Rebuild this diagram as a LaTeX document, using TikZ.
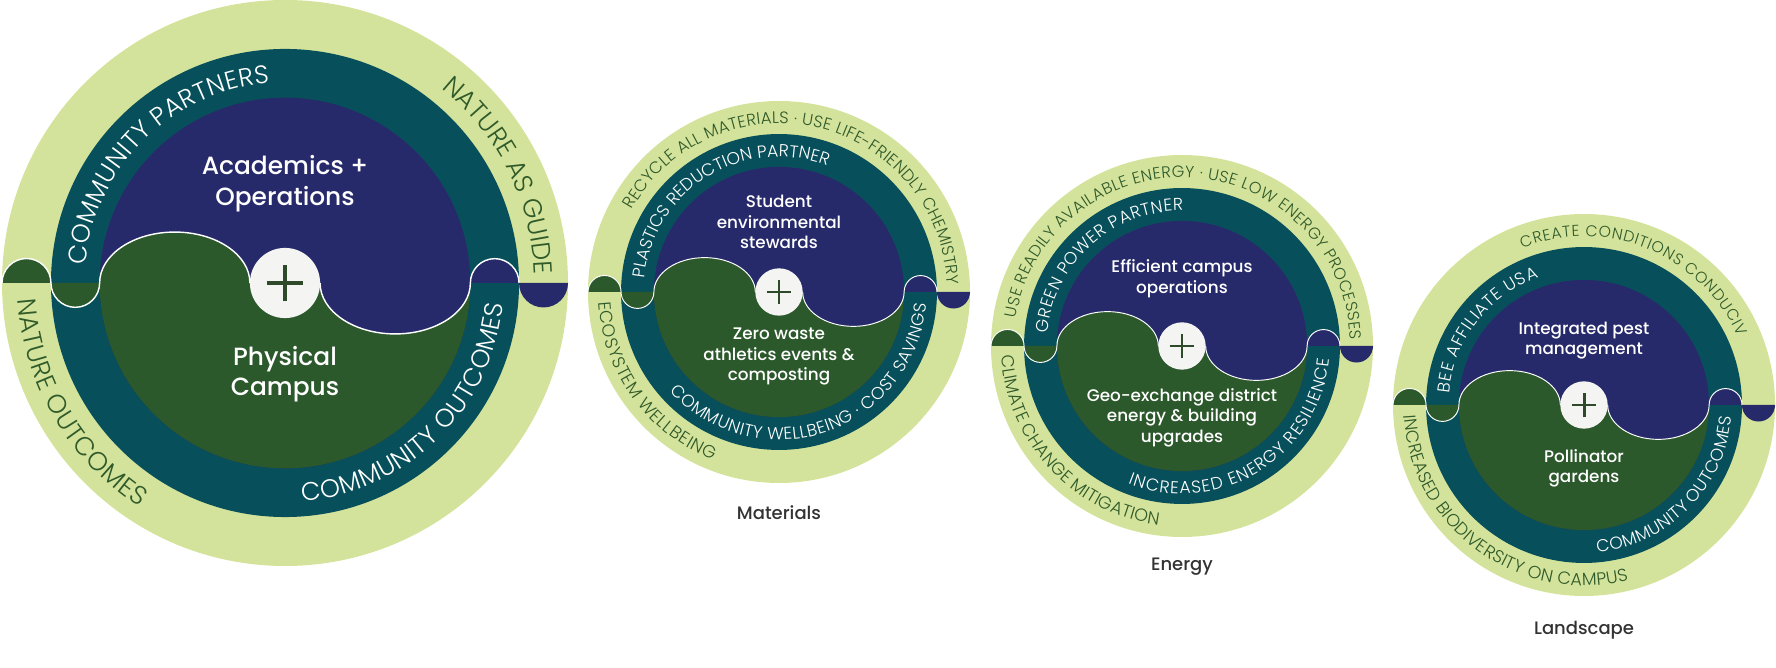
\documentclass[tikz,border=0pt]{standalone}
\usepackage{fontspec}
\setmainfont{Poppins}
\newfontfamily\medfont{Poppins Medium}
\newfontfamily\lightfont{Poppins Light}
\usetikzlibrary{decorations.text}
\definecolor{lgreen}{HTML}{D4E39B}
\definecolor{tealc}{HTML}{07505B}
\definecolor{navyc}{HTML}{272A6A}
\definecolor{dgreen}{HTML}{2C592B}
\definecolor{plusbg}{HTML}{F4F4F2}
\definecolor{plusfg}{HTML}{2E4A2A}
\definecolor{lbl}{HTML}{333333}
\definecolor{ringdark}{HTML}{2F5A2A}

\newcommand{\setR}[1]{%
  \pgfmathsetmacro\Ra{#1}%
  \pgfmathsetmacro\Rb{0.827*#1}%
  \pgfmathsetmacro\Rc{0.655*#1}%
  \pgfmathsetmacro\Rp{0.124*#1}%
  \pgfmathsetmacro\ea{(\Rc-\Rp)/2}%
  \pgfmathsetmacro\eb{0.18*#1}%
  \pgfmathsetmacro\rt{(\Rb-\Rc)/2}%
  \pgfmathsetmacro\rl{(#1-\Rb)/2}%
  \pgfmathsetmacro\pl{0.065*#1}%
  \pgfmathsetmacro\pw{0.0155*#1}%
  \pgfmathsetmacro\wl{0.005*#1}%
  \pgfmathsetmacro\cs{0.088*#1}%
  \pgfmathsetmacro\cl{0.108*#1}%
}

\newcommand{\emblembase}{%
  \fill[lgreen] (0,0) circle[radius=\Ra];
  \fill[tealc] (0,0) circle[radius=\Rb];
  \fill[navyc] (0,0) circle[radius=\Rc];
  \fill[dgreen] (-\Rc,0) arc[start angle=180,end angle=0,x radius=\ea,y radius=\eb]
     -- (\Rp,0) arc[start angle=180,end angle=360,x radius=\ea,y radius=\eb]
     arc[start angle=0,end angle=-180,radius=\Rc] -- cycle;
  \draw[white,line width=\wl pt] (-\Rc,0) arc[start angle=180,end angle=0,x radius=\ea,y radius=\eb];
  \draw[white,line width=\wl pt] (\Rp,0) arc[start angle=180,end angle=360,x radius=\ea,y radius=\eb];
  \fill[dgreen] (-\Rb,0) arc[start angle=180,end angle=360,radius=\rt] -- cycle;
  \draw[white,line width=\wl pt] (-\Rb,0) arc[start angle=180,end angle=360,radius=\rt];
  \fill[navyc] (\Rc,0) arc[start angle=180,end angle=0,radius=\rt] -- cycle;
  \draw[white,line width=\wl pt] (\Rc,0) arc[start angle=180,end angle=0,radius=\rt];
  \fill[dgreen] (-\Ra,0) arc[start angle=180,end angle=0,radius=\rl] -- cycle;
  \draw[white,line width=\wl pt] (-\Ra,0) arc[start angle=180,end angle=0,radius=\rl];
  \fill[navyc] (\Rb,0) arc[start angle=180,end angle=360,radius=\rl] -- cycle;
  \fill[plusbg] (0,0) circle[radius=\Rp];
  \draw[plusfg,line width=\pw pt] (-\pl,0) -- (\pl,0) (0,-\pl) -- (0,\pl);
}

% upper arc text (clockwise): #1 radius factor, #2 start, #3 end, #4 colour, #5 size factor, #6 text
\newcommand{\upring}[6]{%
  \pgfmathsetmacro\rrad{#1*\Ra}%
  \pgfmathsetmacro\angA{#2+2.5}%
  \pgfmathsetmacro\angB{#3-2.5}%
  \pgfmathsetmacro\tfs{#5*\Ra}%
  \path[decorate,decoration={text along path,text align={fit to path},text color=#4,
    text={|\lightfont\fontsize{\tfs}{\tfs}\selectfont|#6}}]
    (\angA:\rrad) arc[start angle=\angA,end angle=\angB,radius=\rrad];
}
% lower arc text (counter-clockwise)
\newcommand{\lowring}[6]{%
  \pgfmathsetmacro\rrad{#1*\Ra}%
  \pgfmathsetmacro\angA{#2-2.5}%
  \pgfmathsetmacro\angB{#3+2.5}%
  \pgfmathsetmacro\tfs{#5*\Ra}%
  \path[decorate,decoration={text along path,text align={fit to path},text color=#4,
    text={|\lightfont\fontsize{\tfs}{\tfs}\selectfont|#6}}]
    (\angA:\rrad) arc[start angle=\angA,end angle=\angB,radius=\rrad];
}

\tikzset{
  ctext/.style={align=center,text=white,inner sep=0pt,font=\medfont\fontsize{\cs}{\cl}\selectfont},
  lbltext/.style={text=lbl,inner sep=0pt,font=\medfont\fontsize{18}{20}\selectfont}
}

\begin{document}
\begin{tikzpicture}[x=1pt,y=1pt]
\useasboundingbox (0,0) rectangle (1776,668);

% ---------- Emblem 1 ----------
\begin{scope}[shift={(285,385)}]
  \setR{283}
  \emblembase
  \upring{0.708}{172.4}{96.9}{white}{0.09}{COMMUNITY PARTNERS}
  \upring{0.882}{48.8}{5.5}{ringdark}{0.092}{NATURE AS GUIDE}
  \lowring{0.945}{186}{234.5}{ringdark}{0.092}{NATURE OUTCOMES}
  \lowring{0.774}{277}{352}{white}{0.09}{COMMUNITY OUTCOMES}
  \node[ctext] (e1top) at (0,99.4) {Academics +\\Operations};
  \node[ctext] (e1bot) at (0,-91.3) {Physical\\Campus};
\end{scope}

% ---------- Emblem 2 ----------
\begin{scope}[shift={(779,376)}]
  \setR{191}
  \emblembase
  \upring{0.882}{148.3}{4.9}{ringdark}{0.087}{RECYCLE ALL MATERIALS · USE LIFE-FRIENDLY CHEMISTRY}
  \upring{0.708}{171.7}{71.6}{white}{0.09}{PLASTICS REDUCTION PARTNER}
  \lowring{0.945}{185.8}{246}{ringdark}{0.092}{ECOSYSTEM WELLBEING}
  \lowring{0.774}{225}{352.8}{white}{0.09}{COMMUNITY WELLBEING · COST SAVINGS}
  \node[ctext] (e2top) at (0,70) {Student\\environmental\\stewards};
  \node[ctext] (e2bot) at (0,-64.5) {Zero waste\\athletics events \&\\composting};
  \node[lbltext] (e2lbl) at (0,-221) {Materials};
\end{scope}

% ---------- Emblem 3 ----------
\begin{scope}[shift={(1182,322)}]
  \setR{191}
  \emblembase
  \upring{0.882}{168}{4.6}{ringdark}{0.085}{USE READILY AVAILABLE  ENERGY · USE LOW ENERGY PROCESSES}
  \upring{0.708}{172}{92}{white}{0.09}{GREEN POWER PARTNER}
  \lowring{0.945}{185.5}{260}{ringdark}{0.092}{CLIMATE CHANGE MITIGATION}
  \lowring{0.774}{251}{352.5}{white}{0.09}{INCREASED ENERGY RESILIENCE}
  \node[ctext] (e3top) at (0,67.5) {Efficient campus\\operations};
  \node[ctext] (e3bot) at (0,-71.5) {Geo-exchange district\\energy \& building\\upgrades};
  \node[lbltext] (e3lbl) at (0,-221) {Energy};
\end{scope}

% ---------- Emblem 4 ----------
\begin{scope}[shift={(1584,263)}]
  \setR{191}
  \emblembase
  \upring{0.882}{109}{26.5}{ringdark}{0.082}{CREATE CONDITIONS CONDUCIV}
  \upring{0.708}{172.5}{112}{white}{0.09}{BEE AFFILIATE USA}
  \lowring{0.945}{185.8}{281.8}{ringdark}{0.092}{INCREASED BIODIVERSITY ON CAMPUS}
  \lowring{0.774}{277.6}{352.9}{white}{0.09}{COMMUNITY OUTCOMES}
  \node[ctext] (e4top) at (0,64.5) {Integrated pest\\management};
  \node[ctext] (e4bot) at (0,-63.5) {Pollinator\\gardens};
  \node[lbltext] (e4lbl) at (0,-225) {Landscape};
\end{scope}
\end{tikzpicture}
\end{document}
